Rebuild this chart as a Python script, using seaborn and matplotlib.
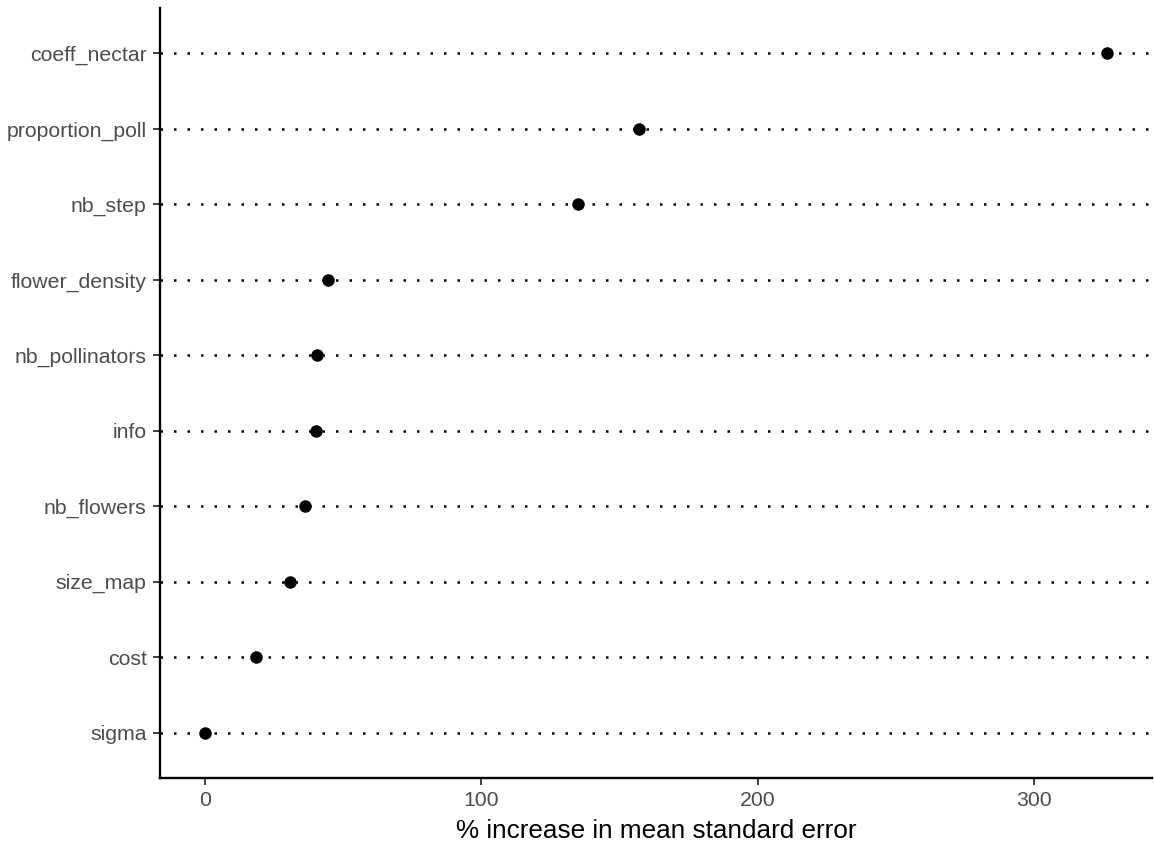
import matplotlib
matplotlib.use("Agg")
import matplotlib.pyplot as plt
import seaborn as sns
import pandas as pd

variables = ["coeff_nectar", "proportion_poll", "nb_step", "flower_density",
             "nb_pollinators", "info", "nb_flowers", "size_map", "cost", "sigma"]
pct_increase = [326.4, 157.2, 135.1, 44.6, 40.6, 40.2, 36.2, 30.8, 18.5, 0.0]
x_ticks = [0, 100, 200, 300]

df = pd.DataFrame({"variable": variables, "value": pct_increase})

sns.set_theme(style="ticks")
plt.rcParams['font.family'] = ['Liberation Sans', 'DejaVu Sans']

fig = plt.figure(figsize=(11.54, 8.41), dpi=100)
ax = fig.add_axes([160/1154, 1 - 778/841, (1152-160)/1154, (778-8)/841])

for i, _ in enumerate(variables):
    ax.axhline(i, color="black", linestyle=(0, (1, 4.4)), linewidth=1.8, zorder=1)

sns.stripplot(data=df, x="value", y="variable", order=variables, jitter=False,
              color="black", size=9, linewidth=0, ax=ax, zorder=3)

xmin, xmax = 0, max(pct_increase)
pad = (xmax - xmin) * 0.05
ax.set_xlim(xmin - pad, xmax + pad)
ax.set_ylim(len(variables) - 1 + 0.6, -0.6)
ax.set_xticks(x_ticks)
ax.set_xticklabels([str(t) for t in x_ticks])

for s in ["top", "right"]:
    ax.spines[s].set_visible(False)
for s in ["left", "bottom"]:
    ax.spines[s].set_linewidth(1.7)
    ax.spines[s].set_color("black")

ax.tick_params(axis="both", length=5, width=1.3, color="#333333",
               labelcolor="#4D4D4D", labelsize=15.3, pad=4.5)
ax.set_xlabel("% increase in mean standard error", fontsize=18.8, color="black", labelpad=6)
ax.set_ylabel("")

fig.savefig("out.png", dpi=100)
